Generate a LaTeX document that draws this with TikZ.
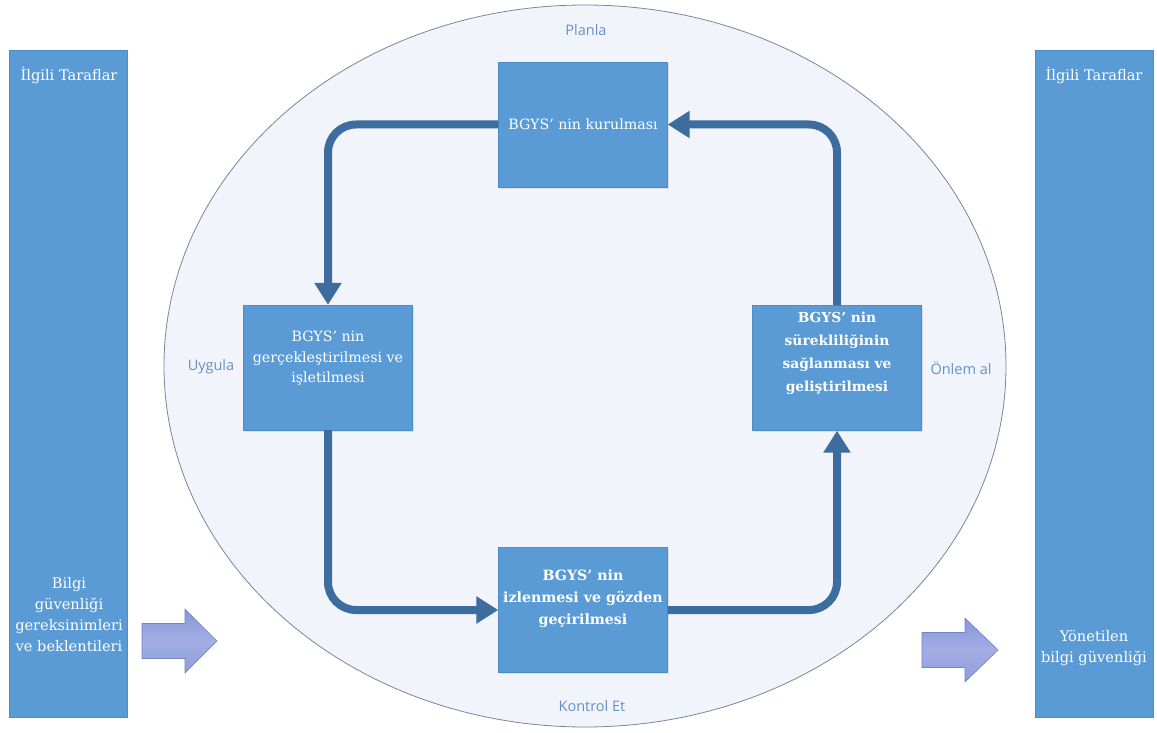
\documentclass[tikz,border=0pt]{standalone}
\usepackage{fontspec}
\setmainfont{DejaVu Serif}
\newfontfamily\labelfont{Open Sans}
\usetikzlibrary{arrows.meta,shadows}

\definecolor{boxblue}{HTML}{5B9BD5}
\definecolor{boxedge}{HTML}{4F8CC4}
\definecolor{flowblue}{HTML}{3D6C9E}
\definecolor{ringfill}{HTML}{F1F5FB}
\definecolor{ringline}{HTML}{7A8696}
\definecolor{labelblue}{HTML}{6690C6}
\definecolor{fatarrowtop}{HTML}{8696D6}
\definecolor{fatarrowmid}{HTML}{A3AEE6}
\definecolor{fatarrowbot}{HTML}{8E9CDA}
\definecolor{fatarrowline}{HTML}{7383C4}

\begin{document}
\begin{tikzpicture}[x=1pt,y=-1pt,
  stepbox/.style={fill=boxblue, draw=boxedge, line width=0.4pt,
    minimum width=169pt, minimum height=125pt, inner sep=0pt,
    drop shadow={opacity=0.18, shadow xshift=1.5pt, shadow yshift=-1.5pt}},
  boxtext/.style={text=white, align=center, inner sep=0pt,
    font=\fontsize{14.2}{20.5}\selectfont},
  bar/.style={fill=boxblue, draw=boxedge, line width=0.4pt,
    minimum width=118pt, minimum height=667pt, inner sep=0pt},
  bartext/.style={text=white, align=center, inner sep=0pt,
    font=\fontsize{14.6}{21}\selectfont},
  phase/.style={text=labelblue, inner sep=0pt,
    font=\labelfont\fontsize{14.5}{17}\selectfont},
  flow/.style={draw=flowblue, line width=8pt, rounded corners=28pt,
    -{Triangle[width=26pt,length=22pt]}},
  fatarrow/.style={top color=fatarrowtop, bottom color=fatarrowbot,
    middle color=fatarrowmid, draw=fatarrowline, line width=0.6pt,
    line join=miter}
]
\useasboundingbox (0,0) rectangle (1157,733);

% the PDCA ring
\draw[fill=ringfill, draw=ringline, line width=0.8pt]
  (585,366) ellipse [x radius=421pt, y radius=361pt];

% interested parties, left and right
\node[bar] (leftbar) at (68.5,383.5) {};
\node[bar] (rightbar) at (1094,383.5) {};
\node[bartext] (lefthead) at (69,75) {İlgili Taraflar};
\node[bartext] (righthead) at (1094,75) {İlgili Taraflar};
\node[bartext] (inputs) at (69,615)
  {Bilgi\\güvenliği\\gereksinimleri\\ve beklentileri};
\node[bartext] (outputs) at (1094,648) {Yönetilen\\bilgi güvenliği};

% input / output block arrows
\path[fatarrow] (142,623.5) -- (185,623.5) -- (185,609) -- (217,641)
  -- (185,673) -- (185,658.5) -- (142,658.5) -- cycle;
\path[fatarrow] (922,632.5) -- (965,632.5) -- (965,618) -- (998,650)
  -- (965,682) -- (965,667.5) -- (922,667.5) -- cycle;

% the four process steps
\node[stepbox] (plan) at (583,124.5) {};
\node[stepbox] (do) at (328,367.5) {};
\node[stepbox] (check) at (583,610) {};
\node[stepbox] (act) at (837,368) {};

\node[boxtext] (plantext) at (plan.center) {BGYS' nin kurulması};
\node[boxtext] (dotext) at ([yshift=9pt]do.center)
  {BGYS' nin\\gerçekleştirilmesi ve\\işletilmesi};
\node[boxtext, font=\bfseries\fontsize{14.2}{22}\selectfont] (checktext)
  at ([yshift=11pt]check.center)
  {BGYS' nin\\izlenmesi ve gözden\\geçirilmesi};
\node[boxtext, font=\bfseries\fontsize{13.8}{23}\selectfont] (acttext)
  at ([yshift=15pt]act.center)
  {BGYS' nin\\sürekliliğinin\\sağlanması ve\\geliştirilmesi};

% cycle
\draw[flow] (plan.west) -| (do.north);
\draw[flow] (do.south) |- (check.west);
\draw[flow] (check.east) -| (act.south);
\draw[flow] (act.north) |- (plan.east);

% phase names
\node[phase] (planla) at (586,30) {Planla};
\node[phase] (uygula) at (211,367) {Uygula};
\node[phase] (onlem) at (961,368) {Önlem al};
\node[phase] (kontrol) at (592,706) {Kontrol Et};
\end{tikzpicture}
\end{document}
